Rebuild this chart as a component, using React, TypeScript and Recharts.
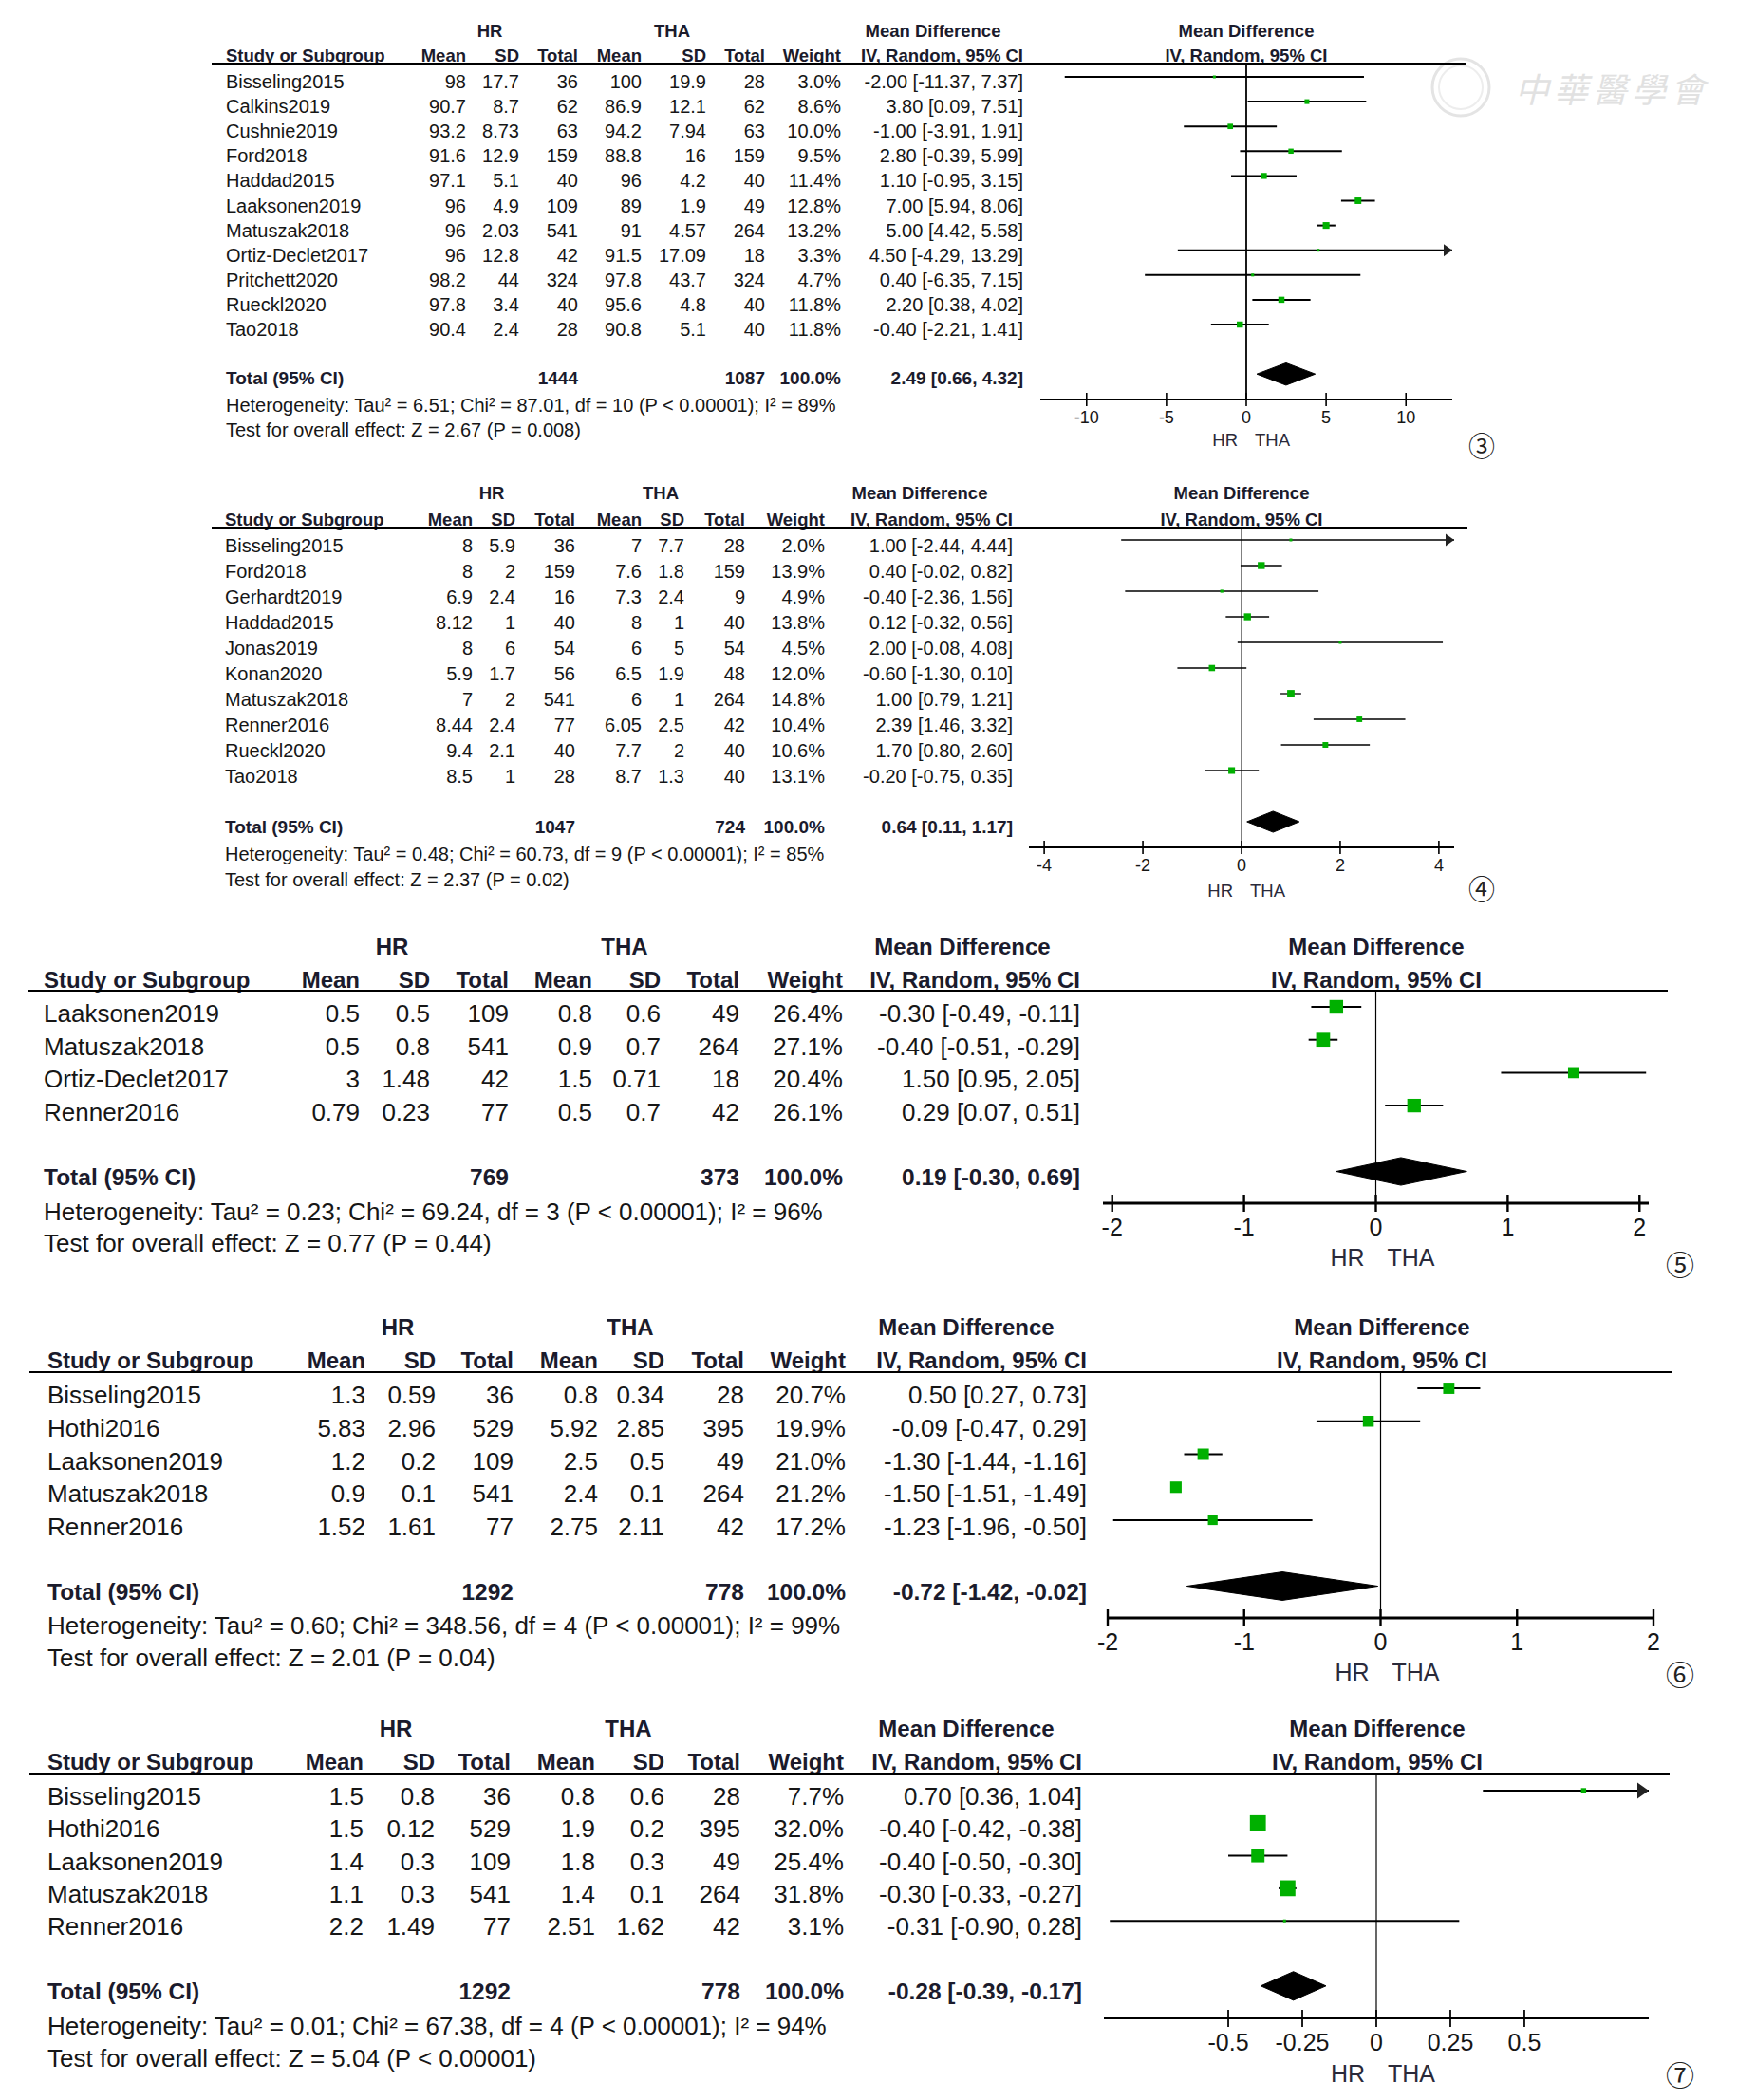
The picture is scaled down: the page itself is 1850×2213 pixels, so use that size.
import React from 'react';
import { ComposedChart, Scatter, Area, XAxis, YAxis, ErrorBar, ReferenceLine } from 'recharts';

// ③ panel
const studies3 = ['Bisseling2015', 'Calkins2019', 'Cushnie2019', 'Ford2018', 'Haddad2015', 'Laaksonen2019', 'Matuszak2018', 'Ortiz-Declet2017', 'Pritchett2020', 'Rueckl2020', 'Tao2018'];
const hrMean3 = [98, 90.7, 93.2, 91.6, 97.1, 96, 96, 96, 98.2, 97.8, 90.4];
const hrSd3 = [17.7, 8.7, 8.73, 12.9, 5.1, 4.9, 2.03, 12.8, 44, 3.4, 2.4];
const hrN3 = [36, 62, 63, 159, 40, 109, 541, 42, 324, 40, 28];
const thaMean3 = [100, 86.9, 94.2, 88.8, 96, 89, 91, 91.5, 97.8, 95.6, 90.8];
const thaSd3 = [19.9, 12.1, 7.94, 16, 4.2, 1.9, 4.57, 17.09, 43.7, 4.8, 5.1];
const thaN3 = [28, 62, 63, 159, 40, 49, 264, 18, 324, 40, 40];
const weight3 = [3.0, 8.6, 10.0, 9.5, 11.4, 12.8, 13.2, 3.3, 4.7, 11.8, 11.8];
const md3 = [-2.0, 3.8, -1.0, 2.8, 1.1, 7.0, 5.0, 4.5, 0.4, 2.2, -0.4];
const lo3 = [-11.37, 0.09, -3.91, -0.39, -0.95, 5.94, 4.42, -4.29, -6.35, 0.38, -2.21];
const hi3 = [7.37, 7.51, 1.91, 5.99, 3.15, 8.06, 5.58, 13.29, 7.15, 4.02, 1.41];
const total3 = [1444, 1087];
const totalCI3 = [2.49, 0.66, 4.32];
const het3 = 'Heterogeneity: Tau² = 6.51; Chi² = 87.01, df = 10 (P < 0.00001); I² = 89%';
const test3 = 'Test for overall effect: Z = 2.67 (P = 0.008)';
const ticks3 = [-10, -5, 0, 5, 10];

// ④ panel
const studies4 = ['Bisseling2015', 'Ford2018', 'Gerhardt2019', 'Haddad2015', 'Jonas2019', 'Konan2020', 'Matuszak2018', 'Renner2016', 'Rueckl2020', 'Tao2018'];
const hrMean4 = [8, 8, 6.9, 8.12, 8, 5.9, 7, 8.44, 9.4, 8.5];
const hrSd4 = [5.9, 2, 2.4, 1, 6, 1.7, 2, 2.4, 2.1, 1];
const hrN4 = [36, 159, 16, 40, 54, 56, 541, 77, 40, 28];
const thaMean4 = [7, 7.6, 7.3, 8, 6, 6.5, 6, 6.05, 7.7, 8.7];
const thaSd4 = [7.7, 1.8, 2.4, 1, 5, 1.9, 1, 2.5, 2, 1.3];
const thaN4 = [28, 159, 9, 40, 54, 48, 264, 42, 40, 40];
const weight4 = [2.0, 13.9, 4.9, 13.8, 4.5, 12.0, 14.8, 10.4, 10.6, 13.1];
const md4 = [1.0, 0.4, -0.4, 0.12, 2.0, -0.6, 1.0, 2.39, 1.7, -0.2];
const lo4 = [-2.44, -0.02, -2.36, -0.32, -0.08, -1.3, 0.79, 1.46, 0.8, -0.75];
const hi4 = [4.44, 0.82, 1.56, 0.56, 4.08, 0.1, 1.21, 3.32, 2.6, 0.35];
const total4 = [1047, 724];
const totalCI4 = [0.64, 0.11, 1.17];
const het4 = 'Heterogeneity: Tau² = 0.48; Chi² = 60.73, df = 9 (P < 0.00001); I² = 85%';
const test4 = 'Test for overall effect: Z = 2.37 (P = 0.02)';
const ticks4 = [-4, -2, 0, 2, 4];

// ⑤ panel
const studies5 = ['Laaksonen2019', 'Matuszak2018', 'Ortiz-Declet2017', 'Renner2016'];
const hrMean5 = [0.5, 0.5, 3, 0.79];
const hrSd5 = [0.5, 0.8, 1.48, 0.23];
const hrN5 = [109, 541, 42, 77];
const thaMean5 = [0.8, 0.9, 1.5, 0.5];
const thaSd5 = [0.6, 0.7, 0.71, 0.7];
const thaN5 = [49, 264, 18, 42];
const weight5 = [26.4, 27.1, 20.4, 26.1];
const md5 = [-0.3, -0.4, 1.5, 0.29];
const lo5 = [-0.49, -0.51, 0.95, 0.07];
const hi5 = [-0.11, -0.29, 2.05, 0.51];
const total5 = [769, 373];
const totalCI5 = [0.19, -0.3, 0.69];
const het5 = 'Heterogeneity: Tau² = 0.23; Chi² = 69.24, df = 3 (P < 0.00001); I² = 96%';
const test5 = 'Test for overall effect: Z = 0.77 (P = 0.44)';
const ticks5 = [-2, -1, 0, 1, 2];

// ⑥ panel
const studies6 = ['Bisseling2015', 'Hothi2016', 'Laaksonen2019', 'Matuszak2018', 'Renner2016'];
const hrMean6 = [1.3, 5.83, 1.2, 0.9, 1.52];
const hrSd6 = [0.59, 2.96, 0.2, 0.1, 1.61];
const hrN6 = [36, 529, 109, 541, 77];
const thaMean6 = [0.8, 5.92, 2.5, 2.4, 2.75];
const thaSd6 = [0.34, 2.85, 0.5, 0.1, 2.11];
const thaN6 = [28, 395, 49, 264, 42];
const weight6 = [20.7, 19.9, 21.0, 21.2, 17.2];
const md6 = [0.5, -0.09, -1.3, -1.5, -1.23];
const lo6 = [0.27, -0.47, -1.44, -1.51, -1.96];
const hi6 = [0.73, 0.29, -1.16, -1.49, -0.5];
const total6 = [1292, 778];
const totalCI6 = [-0.72, -1.42, -0.02];
const het6 = 'Heterogeneity: Tau² = 0.60; Chi² = 348.56, df = 4 (P < 0.00001); I² = 99%';
const test6 = 'Test for overall effect: Z = 2.01 (P = 0.04)';
const ticks6 = [-2, -1, 0, 1, 2];

// ⑦ panel
const studies7 = ['Bisseling2015', 'Hothi2016', 'Laaksonen2019', 'Matuszak2018', 'Renner2016'];
const hrMean7 = [1.5, 1.5, 1.4, 1.1, 2.2];
const hrSd7 = [0.8, 0.12, 0.3, 0.3, 1.49];
const hrN7 = [36, 529, 109, 541, 77];
const thaMean7 = [0.8, 1.9, 1.8, 1.4, 2.51];
const thaSd7 = [0.6, 0.2, 0.3, 0.1, 1.62];
const thaN7 = [28, 395, 49, 264, 42];
const weight7 = [7.7, 32.0, 25.4, 31.8, 3.1];
const md7 = [0.7, -0.4, -0.4, -0.3, -0.31];
const lo7 = [0.36, -0.42, -0.5, -0.33, -0.9];
const hi7 = [1.04, -0.38, -0.3, -0.27, 0.28];
const total7 = [1292, 778];
const totalCI7 = [-0.28, -0.39, -0.17];
const het7 = 'Heterogeneity: Tau² = 0.01; Chi² = 67.38, df = 4 (P < 0.00001); I² = 94%';
const test7 = 'Test for overall effect: Z = 5.04 (P < 0.00001)';
const ticks7 = [-0.5, -0.25, 0, 0.25, 0.5];

const headCols = ['Mean', 'SD', 'Total', 'Mean', 'SD', 'Total', 'Weight', 'IV, Random, 95% CI'];

const W = 1850;
const H = 2213;
const FONT = '"Liberation Sans", Arial, Helvetica, sans-serif';
const INK = '#161616';
const BOLD_INK = '#1b1b2c';
const GREEN = '#00b000';

const small = { fs: 20, bfs: 18.5, tickFs: 18, tickDy: 19, tickLen: 7, hrGap: 9, hrFs: 18.5, boxK: 0.9, arrowW: 9, arrowH: 13, numFs: 28 };
const big = { fs: 26, bfs: 24, tickFs: 25, tickDy: 25, tickLen: 9, hrGap: 12, hrFs: 25, boxK: 1.05, arrowW: 12, arrowH: 17, numFs: 30 };

const layouts: any[] = [
  { ...small, domain: [-12.9, 12.9], plotLeft: 1096, plotRight: 1530, plotTop: 67, plotBottom: 421, rowY0: 81, rowStep: 26.1, textOff: 5, totalRow: 12, dh: 0.45,
    totalY: 398, hetY: 427, testY: 453, lineX1: 223, lineX2: 1545, groupY: 32, colY: 58, studyX: 238,
    cols: [491, 547, 609, 676, 744, 806, 886, 1078], hrX: 516, thaX: 708, mdX: 983, plotHeadX: 1313,
    hrDy: 42, axisW: 2, zeroW: 1.8, ciW: 2, numX: 1561, numY: 471, num: '③' },
  { ...small, domain: [-4.31, 4.31], plotLeft: 1084, plotRight: 1532, plotTop: 556, plotBottom: 893, rowY0: 569, rowStep: 27, textOff: 6, totalRow: 11, dh: 0.41,
    totalY: 871, hetY: 900, testY: 927, lineX1: 223, lineX2: 1546, groupY: 519, colY: 547, studyX: 237,
    cols: [498, 543, 606, 676, 721, 785, 869, 1067], hrX: 518, thaX: 696, mdX: 969, plotHeadX: 1308,
    hrDy: 45, axisW: 2, zeroW: 1, ciW: 1.3, numX: 1561, numY: 938, num: '④' },
  { ...big, domain: [-2.07, 2.07], plotLeft: 1162, plotRight: 1737, plotTop: 1044, plotBottom: 1268, rowY0: 1061, rowStep: 34.7, textOff: 7, totalRow: 5, dh: 0.42,
    totalY: 1240, hetY: 1277, testY: 1310, lineX1: 29, lineX2: 1757, groupY: 997, colY: 1032, studyX: 46,
    cols: [379, 453, 536, 624, 696, 779, 888, 1138], hrX: 413, thaX: 658, mdX: 1014, plotHeadX: 1450,
    hrDy: 57, axisW: 3, zeroW: 1.2, ciW: 2, numX: 1770, numY: 1333, num: '⑤' },
  { ...big, domain: [-2.0, 2.0], plotLeft: 1167, plotRight: 1742, plotTop: 1446, plotBottom: 1705, rowY0: 1463, rowStep: 34.75, textOff: 7, totalRow: 6, dh: 0.43,
    totalY: 1677, hetY: 1713, testY: 1747, lineX1: 31, lineX2: 1761, groupY: 1398, colY: 1433, studyX: 50,
    cols: [385, 459, 541, 630, 700, 784, 891, 1145], hrX: 419, thaX: 664, mdX: 1018, plotHeadX: 1456,
    hrDy: 57, axisW: 3, zeroW: 1.2, ciW: 2, numX: 1770, numY: 1765, num: '⑥' },
  { ...big, domain: [-0.92, 0.92], plotLeft: 1163, plotRight: 1737, plotTop: 1869, plotBottom: 2127, rowY0: 1887, rowStep: 34.3, textOff: 6, totalRow: 6, dh: 0.44,
    totalY: 2098, hetY: 2135, testY: 2169, lineX1: 31, lineX2: 1759, groupY: 1821, colY: 1856, studyX: 50,
    cols: [383, 458, 538, 627, 700, 780, 889, 1140], hrX: 417, thaX: 662, mdX: 1018, plotHeadX: 1451,
    hrDy: 58, axisW: 2.2, zeroW: 1.2, ciW: 2, numX: 1770, numY: 2187, num: '⑦' },
];

const panels = [
  { studies: studies3, hrMean: hrMean3, hrSd: hrSd3, hrN: hrN3, thaMean: thaMean3, thaSd: thaSd3, thaN: thaN3, weight: weight3, md: md3, lo: lo3, hi: hi3, total: total3, totalCI: totalCI3, het: het3, test: test3, ticks: ticks3 },
  { studies: studies4, hrMean: hrMean4, hrSd: hrSd4, hrN: hrN4, thaMean: thaMean4, thaSd: thaSd4, thaN: thaN4, weight: weight4, md: md4, lo: lo4, hi: hi4, total: total4, totalCI: totalCI4, het: het4, test: test4, ticks: ticks4 },
  { studies: studies5, hrMean: hrMean5, hrSd: hrSd5, hrN: hrN5, thaMean: thaMean5, thaSd: thaSd5, thaN: thaN5, weight: weight5, md: md5, lo: lo5, hi: hi5, total: total5, totalCI: totalCI5, het: het5, test: test5, ticks: ticks5 },
  { studies: studies6, hrMean: hrMean6, hrSd: hrSd6, hrN: hrN6, thaMean: thaMean6, thaSd: thaSd6, thaN: thaN6, weight: weight6, md: md6, lo: lo6, hi: hi6, total: total6, totalCI: totalCI6, het: het6, test: test6, ticks: ticks6 },
  { studies: studies7, hrMean: hrMean7, hrSd: hrSd7, hrN: hrN7, thaMean: thaMean7, thaSd: thaSd7, thaN: thaN7, weight: weight7, md: md7, lo: lo7, hi: hi7, total: total7, totalCI: totalCI7, het: het7, test: test7, ticks: ticks7 },
];

const ci = (m: number, l: number, h: number) => `${m.toFixed(2)} [${l.toFixed(2)}, ${h.toFixed(2)}]`;

const T = ({ x, y, anchor = 'start', bold = false, size, children }: any) => (
  <text x={x} y={y} textAnchor={anchor} dominantBaseline="central" fontFamily={FONT} fontSize={size}
    fontWeight={bold ? 'bold' : 'normal'} fill={bold ? BOLD_INK : INK}>{children}</text>
);

const TableText = ({ p, L }: any) => {
  const rowY = (i: number) => L.rowY0 + i * L.rowStep + L.textOff;
  return (
    <g>
      <T x={L.hrX} y={L.groupY} anchor="middle" bold size={L.bfs}>HR</T>
      <T x={L.thaX} y={L.groupY} anchor="middle" bold size={L.bfs}>THA</T>
      <T x={L.mdX} y={L.groupY} anchor="middle" bold size={L.bfs}>Mean Difference</T>
      <T x={L.plotHeadX} y={L.groupY} anchor="middle" bold size={L.bfs}>Mean Difference</T>
      <T x={L.studyX} y={L.colY} bold size={L.bfs}>Study or Subgroup</T>
      {headCols.map((h, j) => (
        <T key={j} x={L.cols[j]} y={L.colY} anchor="end" bold size={L.bfs}>{h}</T>
      ))}
      <T x={L.plotHeadX} y={L.colY} anchor="middle" bold size={L.bfs}>IV, Random, 95% CI</T>
      <line x1={L.lineX1} x2={L.lineX2} y1={L.plotTop} y2={L.plotTop} stroke="#000" strokeWidth={2} />
      {p.studies.map((s: string, i: number) => {
        const vals = [p.hrMean[i], p.hrSd[i], p.hrN[i], p.thaMean[i], p.thaSd[i], p.thaN[i], p.weight[i].toFixed(1) + '%', ci(p.md[i], p.lo[i], p.hi[i])];
        return (
          <g key={s}>
            <T x={L.studyX} y={rowY(i)} size={L.fs}>{s}</T>
            {vals.map((v, j) => (
              <T key={j} x={L.cols[j]} y={rowY(i)} anchor="end" size={L.fs}>{String(v)}</T>
            ))}
          </g>
        );
      })}
      <T x={L.studyX} y={L.totalY} bold size={L.bfs + 0.5}>Total (95% CI)</T>
      <T x={L.cols[2]} y={L.totalY} anchor="end" bold size={L.bfs + 0.5}>{String(p.total[0])}</T>
      <T x={L.cols[5]} y={L.totalY} anchor="end" bold size={L.bfs + 0.5}>{String(p.total[1])}</T>
      <T x={L.cols[6]} y={L.totalY} anchor="end" bold size={L.bfs + 0.5}>100.0%</T>
      <T x={L.cols[7]} y={L.totalY} anchor="end" bold size={L.bfs + 0.5}>{ci(p.totalCI[0], p.totalCI[1], p.totalCI[2])}</T>
      <T x={L.studyX} y={L.hetY} size={L.fs}>{p.het}</T>
      <T x={L.studyX} y={L.testY} size={L.fs}>{p.test}</T>
      <text x={L.numX} y={L.numY} textAnchor="middle" dominantBaseline="central" fontFamily='"DejaVu Serif", "Noto Sans CJK SC", serif' fontSize={L.numFs} fill="#222">{L.num}</text>
    </g>
  );
};

const AxisTick = (props: any) => {
  const { x, y, payload, L } = props;
  const v = payload.value;
  return (
    <g>
      <line x1={x} x2={x} y1={y - L.tickLen} y2={y + L.tickLen} stroke="#000" strokeWidth={Math.max(1.5, L.axisW * 0.8)} />
      <text x={x} y={y + L.tickDy} textAnchor="middle" dominantBaseline="central" fontFamily={FONT} fontSize={L.tickFs} fill={INK}>{String(v)}</text>
      {v === 0 && (
        <g>
          <text x={x - L.hrGap} y={y + L.hrDy} textAnchor="end" dominantBaseline="central" fontFamily={FONT} fontSize={L.hrFs} fill="#2a2a3a">HR</text>
          <text x={x + L.hrGap} y={y + L.hrDy} textAnchor="start" dominantBaseline="central" fontFamily={FONT} fontSize={L.hrFs} fill="#2a2a3a">THA</text>
        </g>
      )}
    </g>
  );
};

const Box = (props: any) => {
  const { cx, cy, payload, k } = props;
  const s = Math.max(3, k * Math.pow(payload.w, 0.8));
  return <rect x={cx - s / 2} y={cy - s / 2} width={s} height={s} fill={GREEN} />;
};

const Arrow = (props: any) => {
  const { cx, cy, payload, L } = props;
  const d = payload.dir;
  const a = L.arrowW;
  const b = L.arrowH / 2;
  return <polygon points={`${cx},${cy} ${cx - d * a},${cy - b} ${cx - d * a},${cy + b}`} fill="#222" />;
};

const ForestPlot = ({ p, L }: any) => {
  const [dmin, dmax] = L.domain;
  const yTop = (L.plotTop - L.rowY0) / L.rowStep;
  const yBot = (L.plotBottom - L.rowY0) / L.rowStep;
  const pts = p.studies.map((s: string, i: number) => {
    const l = Math.max(p.lo[i], dmin);
    const h = Math.min(p.hi[i], dmax);
    return { x: p.md[i], y: i, err: [p.md[i] - l, h - p.md[i]], w: p.weight[i] };
  });
  const arrows: any[] = [];
  p.studies.forEach((s: string, i: number) => {
    if (p.hi[i] > dmax) arrows.push({ x: dmax, y: i, dir: 1 });
    if (p.lo[i] < dmin) arrows.push({ x: dmin, y: i, dir: -1 });
  });
  const yc = L.totalRow;
  const diamond = [
    { x: p.totalCI[1], d: [yc, yc] },
    { x: p.totalCI[0], d: [yc - L.dh, yc + L.dh] },
    { x: p.totalCI[2], d: [yc, yc] },
  ];
  return (
    <div style={{ position: 'absolute', left: 0, top: 0 }}>
      <ComposedChart width={W} height={H}
        margin={{ top: L.plotTop, bottom: H - L.plotBottom - 1, left: L.plotLeft, right: W - L.plotRight }}>
        <XAxis type="number" dataKey="x" domain={L.domain} ticks={p.ticks} allowDataOverflow interval={0}
          height={1} tickSize={0} tickMargin={0} tickLine={false}
          axisLine={{ stroke: '#000', strokeWidth: L.axisW }}
          tick={(t: any) => <AxisTick {...t} L={L} />} />
        <YAxis type="number" dataKey="y" domain={[yTop, yBot]} reversed hide allowDataOverflow />
        <ReferenceLine x={0} stroke="#000" strokeWidth={L.zeroW} />
        <Area data={diamond} dataKey="d" type="linear" fill="#000" fillOpacity={1} stroke="#000" strokeWidth={1}
          isAnimationActive={false} dot={false} activeDot={false} />
        <Scatter data={pts} isAnimationActive={false} shape={() => <g />}>
          <ErrorBar dataKey="err" direction="x" width={0} stroke="#000" strokeWidth={L.ciW} />
        </Scatter>
        <Scatter data={pts} isAnimationActive={false} shape={(s: any) => <Box {...s} k={L.boxK} />} />
        <Scatter data={arrows} isAnimationActive={false} shape={(s: any) => <Arrow {...s} L={L} />} />
      </ComposedChart>
    </div>
  );
};

const Watermark = () => (
  <g opacity={0.9}>
    <circle cx={1539} cy={92} r={30} fill="none" stroke="#e2e2e2" strokeWidth={3} />
    <circle cx={1539} cy={92} r={23} fill="none" stroke="#ececec" strokeWidth={2} />
    <text x={1596} y={92} dominantBaseline="central" fontFamily='"Noto Sans CJK TC", "Noto Sans CJK SC", sans-serif'
      fontSize={36} letterSpacing={5} fill="#dedede" fontStyle="italic">中華醫學會</text>
  </g>
);

export default function App() {
  return (
    <div style={{ position: 'absolute', left: 0, top: 0, width: W, height: H, background: '#fff', overflow: 'hidden' }}>
      <svg width={W} height={H} style={{ position: 'absolute', left: 0, top: 0 }}>
        <Watermark />
        {panels.map((p, i) => <TableText key={i} p={p} L={layouts[i]} />)}
      </svg>
      {panels.map((p, i) => <ForestPlot key={i} p={p} L={layouts[i]} />)}
    </div>
  );
}
